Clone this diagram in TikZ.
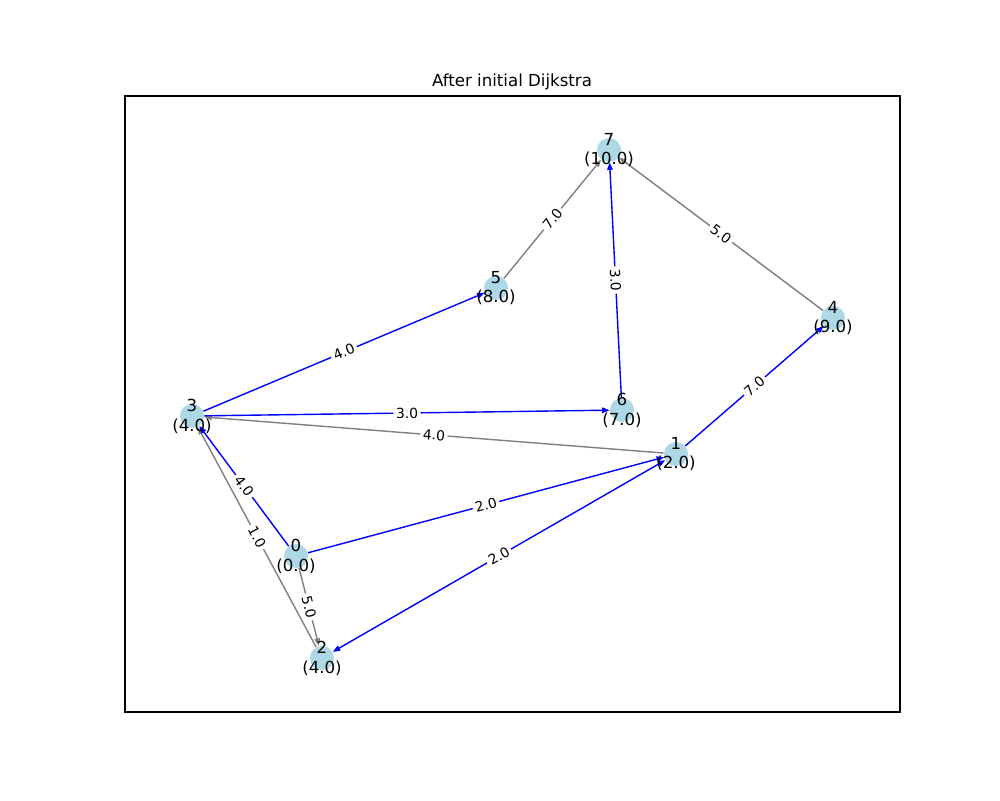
\documentclass[tikz,border=0pt]{standalone}
\usepackage{fontspec}
\setmainfont{DejaVu Sans}
\usepackage{tikz}
\usetikzlibrary{arrows.meta}
\definecolor{nodec}{HTML}{ADD8E6}
\definecolor{pathc}{HTML}{0000FF}
\definecolor{restc}{HTML}{808080}
\tikzset{
  ar/.style={-{Triangle[length=1.5mm,width=1.1mm]},line width=0.8pt,pathc},
  gr/.style={-{Triangle[length=1.5mm,width=1.1mm]},line width=0.8pt,restc},
  nd/.style={circle,fill=nodec,minimum size=4.8mm,inner sep=0pt},
  lb/.style={align=center,inner sep=0pt,font=\fontsize{9.45}{11.3}\selectfont},
  wt/.style={midway,sloped,fill=white,inner sep=1.5pt,text=black,font=\fontsize{7.9}{9}\selectfont}
}

\begin{document}
\begin{tikzpicture}[x=0.2mm,y=-0.2mm]
\useasboundingbox (0,0) rectangle (1000,800);
\draw[line width=0.63pt] (125,96) rectangle (900,712);
\node[font=\fontsize{9.45}{11}\selectfont] (T) at (512,82) {After initial Dijkstra};
\node[nd] (n0) at (296,556) {};
\node[nd] (n1) at (676,454) {};
\node[nd] (n2) at (322,658) {};
\node[nd] (n3) at (192,416) {};
\node[nd] (n4) at (833,318) {};
\node[nd] (n5) at (496,288) {};
\node[nd] (n6) at (622,410) {};
\node[nd] (n7) at (609,150) {};
\draw[gr] (n0)--(n2) node[wt]{5.0};
\draw[gr] (n2)--(n3) node[wt]{1.0};
\draw[gr] (n1)--(n3) node[wt]{4.0};
\draw[gr] (n5)--(n7) node[wt]{7.0};
\draw[gr] (n4)--(n7) node[wt]{5.0};
\draw[ar] (n0)--(n3) node[wt]{4.0};
\draw[ar] (n0)--(n1) node[wt]{2.0};
\draw[ar,{Triangle[length=1.5mm,width=1.1mm]}-{Triangle[length=1.5mm,width=1.1mm]}] (n2)--(n1) node[wt]{2.0};
\draw[ar] (n3)--(n6) node[wt]{3.0};
\draw[ar] (n3)--(n5) node[wt]{4.0};
\draw[ar] (n1)--(n4) node[wt]{7.0};
\draw[ar] (n6)--(n7) node[wt]{3.0};
\node[lb] (t0) at (n0) {0\\(0.0)};
\node[lb] (t1) at (n1) {1\\(2.0)};
\node[lb] (t2) at (n2) {2\\(4.0)};
\node[lb] (t3) at (n3) {3\\(4.0)};
\node[lb] (t4) at (n4) {4\\(9.0)};
\node[lb] (t5) at (n5) {5\\(8.0)};
\node[lb] (t6) at (n6) {6\\(7.0)};
\node[lb] (t7) at (n7) {7\\(10.0)};
\end{tikzpicture}
\end{document}
